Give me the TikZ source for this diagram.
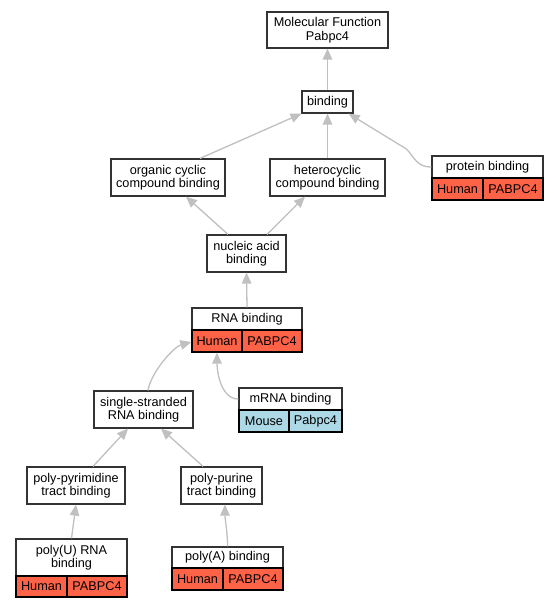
\documentclass[tikz,border=0pt]{standalone}
\usepackage{fontspec}
\setmainfont{Liberation Sans}
\usetikzlibrary{arrows.meta,calc}
\definecolor{humanred}{HTML}{FF6347}
\definecolor{mouseblue}{HTML}{ADD8E6}
\definecolor{edgegray}{HTML}{C0C0C0}
\newcommand{\gofs}{\fontsize{12.7}{13.5}\selectfont}
\tikzset{
  gobox/.style={draw=black!80, line width=1.2pt, fill=white, inner sep=0pt, align=center, font=\gofs},
  gocell/.style={gobox, draw=black},
  human/.style={gocell, fill=humanred},
  mouse/.style={gocell, fill=mouseblue},
  goedge/.style={draw=edgegray, line width=1.3pt, -{Triangle[length=11pt,width=9.5pt]}}
}
\begin{document}
\begin{tikzpicture}[x=1pt,y=-1pt]
\useasboundingbox[fill=white] (0,0) rectangle (557,608);
% plain nodes
\node[gobox, minimum width=121pt, minimum height=36pt] (mf) at (327.5,30) {Molecular Function\\Pabpc4};
\node[gobox, minimum width=51pt, minimum height=22pt] (bind) at (327.5,102) {binding};
\node[gobox, minimum width=115pt, minimum height=37pt] (hetero) at (327.5,177.5) {heterocyclic\\compound binding};
\node[gobox, minimum width=114pt, minimum height=37pt] (organic) at (168,177.5) {organic cyclic\\compound binding};
\node[gobox, minimum width=79pt, minimum height=37pt] (nucleic) at (246.5,253.5) {nucleic acid\\binding};
\node[gobox, minimum width=99pt, minimum height=37pt] (single) at (143.5,409.5) {single-stranded\\RNA binding};
\node[gobox, minimum width=98pt, minimum height=37pt] (pyr) at (76,485.5) {poly-pyrimidine\\tract binding};
\node[gobox, minimum width=81pt, minimum height=37pt] (pur) at (221.5,485.5) {poly-purine\\tract binding};
% protein binding
\node[gobox, minimum width=111pt, minimum height=22pt] (pb) at (487.5,167) {protein binding};
\node[human, minimum width=51pt, minimum height=22pt] (pbh) at (457.5,189) {Human};
\node[human, minimum width=60pt, minimum height=22pt] (pbg) at (513,189) {PABPC4};
% RNA binding
\node[gobox, minimum width=110pt, minimum height=22pt] (rna) at (247,319) {RNA binding};
\node[human, minimum width=50pt, minimum height=22pt] (rnah) at (217,341) {Human};
\node[human, minimum width=60pt, minimum height=22pt] (rnag) at (272,341) {PABPC4};
% mRNA binding
\node[gobox, minimum width=103pt, minimum height=22pt] (mrna) at (290.5,399) {mRNA binding};
\node[mouse, minimum width=50pt, minimum height=22pt] (mrnah) at (264,421) {Mouse};
\node[mouse, minimum width=53pt, minimum height=22pt] (mrnag) at (315.5,421) {Pabpc4};
% poly(U)
\node[gobox, minimum width=111pt, minimum height=37pt] (polyu) at (71.5,557.5) {poly(U) RNA\\binding};
\node[human, minimum width=51pt, minimum height=21pt] (polyuh) at (41.5,586.5) {Human};
\node[human, minimum width=60pt, minimum height=21pt] (polyug) at (97,586.5) {PABPC4};
% poly(A)
\node[gobox, minimum width=111pt, minimum height=21pt] (polya) at (227.5,557.5) {poly(A) binding};
\node[human, minimum width=51pt, minimum height=22pt] (polyah) at (197.5,579) {Human};
\node[human, minimum width=60pt, minimum height=22pt] (polyag) at (253,579) {PABPC4};
% edges
\draw[goedge] (bind.north) -- (mf.south);
\draw[goedge] (hetero.north) -- (bind.south);
\draw[goedge] ([xshift=32pt]organic.north) -- ([xshift=-26pt]bind.south);
\draw[goedge] (pb.west) .. controls +(-15,0) and +(8,8) .. ($(pb.west)+(-25,-18)$) -- ([xshift=-5pt]bind.south east);
\draw[goedge] ([xshift=-18.5pt]nucleic.north) -- ([xshift=18pt]organic.south);
\draw[goedge] ([xshift=20.5pt]nucleic.north) -- ([xshift=-22.5pt]hetero.south);
\draw[goedge] (rna.north) -- (nucleic.south);
\draw[goedge] ([xshift=4.5pt]single.north) .. controls +(3,-18) and +(-18,5) .. ([yshift=-1pt]rnah.west);
\draw[goedge] (mrna.west) .. controls +(-18,0) and +(0,18) .. (rnah.south);
\draw[goedge] ([xshift=17pt]pyr.north) -- ([xshift=-15.5pt]single.south);
\draw[goedge] ([xshift=-18.5pt]pur.north) -- ([xshift=17.5pt]single.south);
\draw[goedge] (polyu.north) -- (pyr.south);
\draw[goedge] (polya.north) .. controls +(0,-15) and +(0,15) .. ([xshift=3.5pt]pur.south);
\end{tikzpicture}
\end{document}
